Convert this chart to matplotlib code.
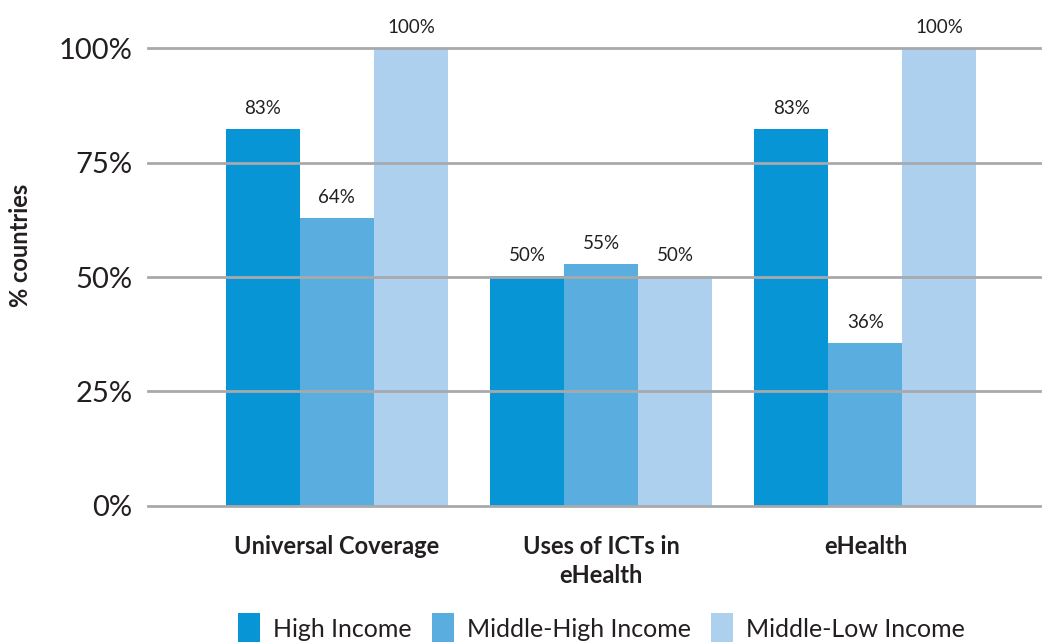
import matplotlib
matplotlib.use("Agg")
import matplotlib.pyplot as plt
import numpy as np

plt.rcParams['font.family'] = ['Lato', 'DejaVu Sans']

categories = ["Universal Coverage", "Uses of ICTs in\neHealth", "eHealth"]
groups = ["High Income", "Middle-High Income", "Middle-Low Income"]
# bar heights as drawn, and the labels printed above them
high = [82.3, 50.2, 82.3]
mid_high = [62.9, 52.8, 35.6]
mid_low = [100, 50.2, 100]
high_lbl = ["83%", "50%", "83%"]
mid_high_lbl = ["64%", "55%", "36%"]
mid_low_lbl = ["100%", "50%", "100%"]
colors = ["#0795d6", "#5aaddf", "#acd0ee"]

fig = plt.figure(figsize=(10.42, 6.42), dpi=100)
ax = fig.add_axes([0.142, 0.212, 0.856, 0.713])

x = np.arange(len(categories))
w = 0.28
series = [high, mid_high, mid_low]
labels = [high_lbl, mid_high_lbl, mid_low_lbl]
for i in range(3):
    pos = x + (i - 1) * w
    bars = ax.bar(pos, series[i], w, color=colors[i], label=groups[i], zorder=2)
    for b, t in zip(bars, labels[i]):
        ax.text(b.get_x() + b.get_width() / 2, b.get_height() + 2.7, t,
                ha='center', va='bottom', fontsize=13.5, color='#231f20', clip_on=False)

for y in [0, 25, 50, 75, 100]:
    ax.axhline(y, color='#a7a9ac', lw=2, zorder=3, clip_on=False)

ax.set_xlim(-0.715, 2.66)
ax.set_ylim(0, 100)
ax.set_yticks([0, 25, 50, 75, 100])
ax.set_yticklabels(["0%", "25%", "50%", "75%", "100%"], fontsize=21, color='#231f20')
ax.tick_params(axis='y', length=0, pad=11)
ax.set_xticks(x)
ax.set_xticklabels(categories, fontsize=17, fontweight='bold', color='#231f20',
                   linespacing=1.3)
ax.tick_params(axis='x', length=0, pad=21)
for s in ax.spines.values():
    s.set_visible(False)

fig.text(0.02, 0.618, "% countries", rotation=90, ha='center', va='center',
         fontsize=17, fontweight='bold', color='#231f20')

fig.legend(loc='upper center', bbox_to_anchor=(0.577, 0.045), ncol=3, frameon=False,
           fontsize=18, handlelength=0.9, handleheight=1.6, handletextpad=0.5,
           columnspacing=0.8, labelcolor='#231f20', borderaxespad=0, borderpad=0)

fig.savefig("out.png", dpi=100)
